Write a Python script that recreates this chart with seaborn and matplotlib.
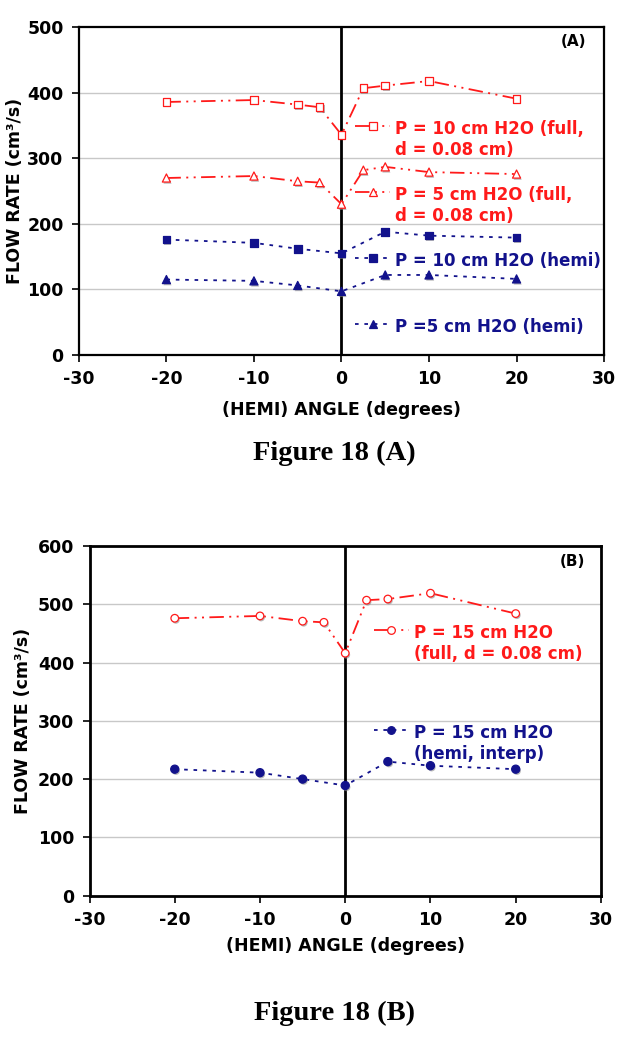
import numpy as np
import pandas as pd
import matplotlib
matplotlib.use("Agg")
import matplotlib.pyplot as plt
import matplotlib.patheffects as pe
from matplotlib.lines import Line2D
import seaborn as sns

# panel A data
angle_full_a = [-20, -10, -5, -2.5, 0, 2.5, 5, 10, 20]
p10_full = [386, 389, 382, 378, 336, 407, 411, 418, 391]
p5_full = [270, 273, 265, 263, 230, 282, 287, 279, 276]
angle_hemi_a = [-20, -10, -5, 0, 5, 10, 20]
p10_hemi = [176, 171, 162, 155, 188, 182, 179]
p5_hemi = [115, 113, 106, 97, 122, 122, 116]

# panel B data
angle_full_b = [-20, -10, -5, -2.5, 0, 2.5, 5, 10, 20]
p15_full = [476, 480, 471, 469, 416, 507, 509, 519, 484]
angle_hemi_b = [-20, -10, -5, 0, 5, 10, 20]
p15_hemi = [217, 211, 200, 189, 230, 223, 217]

labels_a = ["P = 10 cm H2O (full,\nd = 0.08 cm)",
            "P = 5 cm H2O (full,\nd = 0.08 cm)",
            "P = 10 cm H2O (hemi)\n ",
            "P =5 cm H2O (hemi)"]
labels_b = ["P = 15 cm H2O\n(full, d = 0.08 cm)",
            "P = 15 cm H2O\n(hemi, interp)"]

RED = "#ff1a1a"
BLUE = "#12128c"
red_ls = (0, (8, 3, 1.1, 3, 1.1, 3))
blue_ls = (0, (2, 3.2))

sns.set_theme(style="white")
plt.rcParams['font.family'] = ['DejaVu Sans']
plt.rcParams['font.weight'] = 'bold'
plt.rcParams['text.color'] = 'black'
plt.rcParams['axes.labelcolor'] = 'black'
plt.rcParams['axes.unicode_minus'] = False

fig = plt.figure(figsize=(6.26, 10.5), dpi=100)
ax_a = fig.add_axes([0.126, 0.662, 0.839, 0.312])
ax_b = fig.add_axes([0.143, 0.147, 0.817, 0.333])

shadow = [pe.SimplePatchShadow(offset=(0.8, -1.2), shadow_rgbFace="0.55", alpha=0.6), pe.Normal()]


def draw_series(ax, x, y, color, ls, marker, filled, size):
    df = pd.DataFrame({"x": x, "y": y})
    sns.lineplot(data=df, x="x", y="y", ax=ax, color=color, linestyle=ls,
                 linewidth=1.3, estimator=None, sort=False, zorder=3)
    sns.scatterplot(data=df, x="x", y="y", ax=ax, marker=marker, s=size,
                    facecolor=color if filled else "white", edgecolor=color,
                    linewidth=0.9, zorder=4, path_effects=shadow)
    return Line2D([], [], color=color, linestyle=ls, linewidth=1.3, marker=marker,
                  markersize=5.5, markerfacecolor=color if filled else "white",
                  markeredgecolor=color, markeredgewidth=0.9)


def style_axes(ax, ymax, spine_lw):
    ax.set_xlim(-30, 30)
    ax.set_ylim(0, ymax)
    ax.set_xticks(np.arange(-30, 31, 10))
    ax.set_yticks(np.arange(0, ymax + 1, 100))
    for y in range(100, ymax, 100):
        ax.axhline(y, color="#c8c8c8", linewidth=1, zorder=1)
    ax.axvline(0, color="black", linewidth=2, zorder=2)
    for sp in ax.spines.values():
        sp.set_color("black")
        sp.set_linewidth(spine_lw)
    ax.tick_params(axis="both", direction="out", length=5, width=1.2,
                   colors="black", labelsize=12.5, bottom=True, left=True, pad=6)
    for t in ax.get_xticklabels() + ax.get_yticklabels():
        t.set_fontweight("bold")


def top_align_legend(leg):
    for col in leg._legend_handle_box.get_children():
        for item in col.get_children():
            item.align = "top"


# ---- panel A ----
h1 = draw_series(ax_a, angle_full_a, p10_full, RED, red_ls, "s", False, 30)
h2 = draw_series(ax_a, angle_full_a, p5_full, RED, red_ls, "^", False, 34)
h3 = draw_series(ax_a, angle_hemi_a, p10_hemi, BLUE, blue_ls, "s", True, 30)
h4 = draw_series(ax_a, angle_hemi_a, p5_hemi, BLUE, blue_ls, "^", True, 34)
style_axes(ax_a, 500, 1.6)
ax_a.set_xlabel("(HEMI) ANGLE (degrees)", fontsize=12.5, fontweight="bold", labelpad=9)
ax_a.set_ylabel("FLOW RATE (cm³/s)", fontsize=12.5, fontweight="bold", labelpad=2)
ax_a.text(0.942, 0.957, "(A)", transform=ax_a.transAxes, ha="center", va="center",
          fontsize=11, fontweight="bold", color="black")
leg_a = ax_a.legend([h1, h2, h3, h4], labels_a, loc="upper left",
                    bbox_to_anchor=(0.526, 0.716), frameon=False, borderpad=0,
                    borderaxespad=0, handlelength=2.1, handletextpad=0.3,
                    labelspacing=1.62, prop={"size": 12, "weight": "bold"})
for t, c in zip(leg_a.get_texts(), [RED, RED, BLUE, BLUE]):
    t.set_color(c)
top_align_legend(leg_a)

# ---- panel B ----
g1 = draw_series(ax_b, angle_full_b, p15_full, RED, red_ls, "o", False, 30)
g2 = draw_series(ax_b, angle_hemi_b, p15_hemi, BLUE, blue_ls, "o", True, 34)
style_axes(ax_b, 600, 2.0)
ax_b.set_xlabel("(HEMI) ANGLE (degrees)", fontsize=12.5, fontweight="bold", labelpad=6)
ax_b.set_ylabel("FLOW RATE (cm³/s)", fontsize=12.5, fontweight="bold", labelpad=4)
ax_b.text(0.945, 0.957, "(B)", transform=ax_b.transAxes, ha="center", va="center",
          fontsize=11, fontweight="bold", color="black")
leg_b = ax_b.legend([g1, g2], labels_b, loc="upper left",
                    bbox_to_anchor=(0.556, 0.776), frameon=False, borderpad=0,
                    borderaxespad=0, handlelength=2.1, handletextpad=0.3,
                    labelspacing=3.65, prop={"size": 12, "weight": "bold"})
for t, c in zip(leg_b.get_texts(), [RED, BLUE]):
    t.set_color(c)
top_align_legend(leg_b)

fig.text(0.534, 1 - 453 / 1050, "Figure 18 (A)", ha="center", va="center",
         fontsize=20.5, fontweight="bold", family=["Liberation Serif", "DejaVu Serif"])
fig.text(0.534, 1 - 1013 / 1050, "Figure 18 (B)", ha="center", va="center",
         fontsize=20.5, fontweight="bold", family=["Liberation Serif", "DejaVu Serif"])

fig.savefig("out.png", dpi=100)
